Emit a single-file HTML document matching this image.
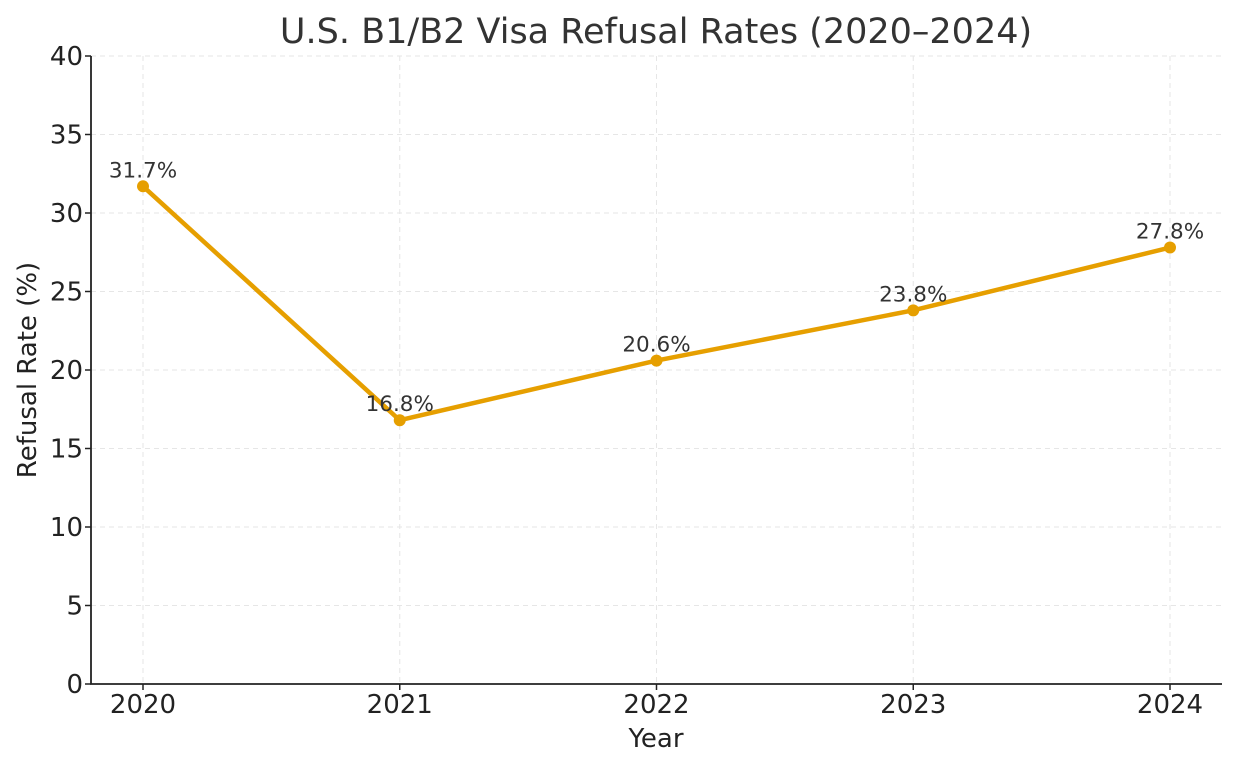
<!DOCTYPE html>
<html><head><meta charset="utf-8"><style>
body{margin:0;background:#fff}
svg{display:block;font-family:"DejaVu Sans","Liberation Sans",sans-serif}
</style></head><body>
<svg id="chart" width="1238" height="768">
<text x="656" y="43" font-size="35" fill="#333" text-anchor="middle">U.S. B1/B2 Visa Refusal Rates (2020–2024)</text>
<g id="grid"></g>
<g id="axes"></g>
<g id="series"></g>
<text x="656" y="747" font-size="26" fill="#222" text-anchor="middle">Year</text>
<text transform="translate(36,370) rotate(-90)" font-size="26" fill="#222" text-anchor="middle">Refusal Rate (%)</text>
</svg>
<script>
const years = ["2020","2021","2022","2023","2024"];
const rates = [31.7, 16.8, 20.6, 23.8, 27.8];
const yTicks = [0,5,10,15,20,25,30,35,40];
const NS="http://www.w3.org/2000/svg";
const L=91,R=1222,T=56,B=684;
const x=i=>143+i*(1170-143)/(years.length-1);
const y=v=>B-(v/40)*(B-T);
function mk(tag,attrs,parent){const e=document.createElementNS(NS,tag);for(const k in attrs)e.setAttribute(k,attrs[k]);parent.appendChild(e);return e;}
const grid=document.getElementById('grid'),axes=document.getElementById('axes'),series=document.getElementById('series');
yTicks.forEach(t=>{
  const g=mk('line',{x1:L,x2:R,y1:y(t),y2:y(t),stroke:'#e6e6e6','stroke-dasharray':'5,4'},grid);
  
  
  const tk=mk('line',{x1:L-6,x2:L,y1:y(t),y2:y(t),stroke:'#222','stroke-width':1.5},axes);
  
  
  const lb=mk('text',{x:L-8,y:y(t)+9,'font-size':26,fill:'#222','text-anchor':'end'},axes);
  lb.textContent=t;
  
  
});
years.forEach((yr,i)=>{
  const g=mk('line',{x1:x(i),x2:x(i),y1:T,y2:B,stroke:'#e6e6e6','stroke-dasharray':'5,4'},grid);
  
  
  const tk=mk('line',{x1:x(i),x2:x(i),y1:B,y2:B+6,stroke:'#222','stroke-width':1.5},axes);
  
  
  const lb=mk('text',{x:x(i),y:B+29,'font-size':26,fill:'#222','text-anchor':'middle'},axes);
  lb.textContent=yr;
  
  
});
const sp=mk('path',{d:`M${L},${T}V${B}H${R}`,fill:'none',stroke:'#222','stroke-width':1.8},axes);


const line=mk('polyline',{points:rates.map((v,i)=>x(i)+','+y(v)).join(' '),fill:'none',stroke:'#E69F00','stroke-width':4.5,'stroke-linejoin':'round'},series);


rates.forEach((v,i)=>{
  const c=mk('circle',{cx:x(i),cy:y(v),r:6,fill:'#E69F00'},series);
  
  
  const t=mk('text',{x:x(i),y:y(v)-9,'font-size':21.5,fill:'#333','text-anchor':'middle'},series);
  t.textContent=v.toFixed(1)+'%';
  
  
});
</script>
</body></html>
